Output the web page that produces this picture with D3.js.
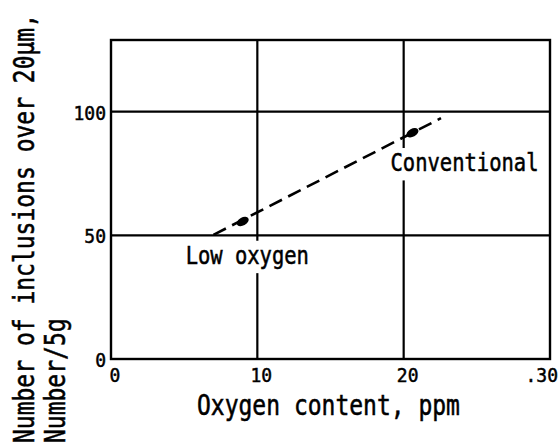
<!DOCTYPE html>
<html>
<head>
<meta charset="utf-8">
<script src="https://cdnjs.cloudflare.com/ajax/libs/d3/7.8.5/d3.min.js"></script>
<style>
	body { margin: 0; background: #fff; }
	svg { display: block; }
	text { font-family: "DejaVu Sans Mono", monospace; fill: #000; stroke: #000; stroke-width: 0.45px; }
</style>
</head>
<body>
<div class="js-chart"></div>
<script>
'use strict';

// measured points (ppm, number per 5g)
const pointX = [9, 20.6];
const pointY = [55.6, 91.5];

// dashed trend line ends
const lineX = [7, 22.55];
const lineY = [50.2, 97.4];

const xTicks = [0, 10, 20, 30];
const xTickLabels = ['0', '10', '20', '.30'];
const yTicks = [0, 50, 100];
const yTickLabels = ['0', '50', '100'];
const xGrid = [10, 20];
const yGrid = [50, 100];

const labelNames = ['Low oxygen', 'Conventional'];
const labelX = [5.1, 19.1];
const labelY = [38.6, 76.1];

const xTitle = 'Oxygen content, ppm';
const yTitle = ['Number of inclusions over 20\u03bcm,', 'Number/5g'];

let svgWidth = 559;
let svgHeight = 445;

const xScale = d3.scaleLinear()
	.domain([0, 30])
	.range([111, 550]);

const yScale = d3.scaleLinear()
	.domain([0, 129])
	.range([359, 40]);

const svg = d3.select('.js-chart')
	.append('svg')
	.attr('width', svgWidth)
	.attr('height', svgHeight);

// grid lines
svg.selectAll('line.vgrid')
	.data(xGrid)
	.enter()
	.append('line')
	.attr('class', 'vgrid')
	.attr('x1', d => xScale(d))
	.attr('x2', d => xScale(d))
	.attr('y1', yScale(0))
	.attr('y2', yScale(129))
	.attr('stroke', '#000')
	.attr('stroke-width', 2.2);

svg.selectAll('line.hgrid')
	.data(yGrid)
	.enter()
	.append('line')
	.attr('class', 'hgrid')
	.attr('x1', xScale(0))
	.attr('x2', xScale(30))
	.attr('y1', d => yScale(d))
	.attr('y2', d => yScale(d))
	.attr('stroke', '#000')
	.attr('stroke-width', 2.2);

// frame
svg.append('rect')
	.attr('x', xScale(0))
	.attr('y', yScale(129))
	.attr('width', xScale(30) - xScale(0))
	.attr('height', yScale(0) - yScale(129))
	.attr('fill', 'none')
	.attr('stroke', '#000')
	.attr('stroke-width', 2.4);

// labels sit on a white patch so the grid breaks around them
const labels = svg.selectAll('g.label')
	.data(labelNames)
	.enter()
	.append('g')
	.attr('class', 'label')
	.attr('transform', (d, i) => `translate(${xScale(labelX[i])},${yScale(labelY[i])}) scale(1,1.2)`);

labels.append('rect')
	.attr('x', -4)
	.attr('y', -19)
	.attr('width', d => d.length * 20.5 * 0.602 + 8)
	.attr('height', 27)
	.attr('fill', '#fff');

labels.append('text')
	.attr('font-size', 20.5)
	.text(d => d);

// dashed line
const line = d3.line()
	.x(d => xScale(d[0]))
	.y(d => yScale(d[1]));

svg.append('path')
	.datum(d3.zip(lineX, lineY))
	.attr('d', line)
	.attr('fill', 'none')
	.attr('stroke', '#000')
	.attr('stroke-width', 2.6)
	.attr('stroke-dasharray', '14,7');

// points, drawn as small ellipses along the line
svg.selectAll('ellipse')
	.data(d3.zip(pointX, pointY))
	.enter()
	.append('ellipse')
	.attr('cx', d => xScale(d[0]))
	.attr('cy', d => yScale(d[1]))
	.attr('rx', 6.5)
	.attr('ry', 4)
	.attr('transform', d => `rotate(-28,${xScale(d[0])},${yScale(d[1])})`)
	.attr('fill', '#000');

// tick labels, the last one ends at the page edge
svg.selectAll('g.xtick')
	.data(xTicks)
	.enter()
	.append('g')
	.attr('class', 'xtick')
	.attr('transform', (d, i) => `translate(${i === 3 ? 558 : xScale(d) + 4},382) scale(1,1.1)`)
	.append('text')
	.attr('font-size', 18)
	.attr('text-anchor', (d, i) => i === 3 ? 'end' : 'middle')
	.text((d, i) => xTickLabels[i]);

svg.selectAll('g.ytick')
	.data(yTicks)
	.enter()
	.append('g')
	.attr('class', 'ytick')
	.attr('transform', d => `translate(106,${yScale(d) + 8}) scale(1,1.1)`)
	.append('text')
	.attr('font-size', 18)
	.attr('text-anchor', 'end')
	.text((d, i) => yTickLabels[i]);

// axis titles
svg.append('g')
	.attr('transform', 'translate(197,415) scale(1,1.2)')
	.append('text')
	.attr('font-size', 23)
	.text(xTitle);

svg.selectAll('g.ytitle')
	.data(yTitle)
	.enter()
	.append('g')
	.attr('class', 'ytitle')
	.attr('transform', (d, i) => `translate(${i === 0 ? 34 : 65},443) rotate(-90) scale(1,1.2)`)
	.append('text')
	.attr('font-size', 23)
	.text(d => d);
</script>
</body>
</html>
